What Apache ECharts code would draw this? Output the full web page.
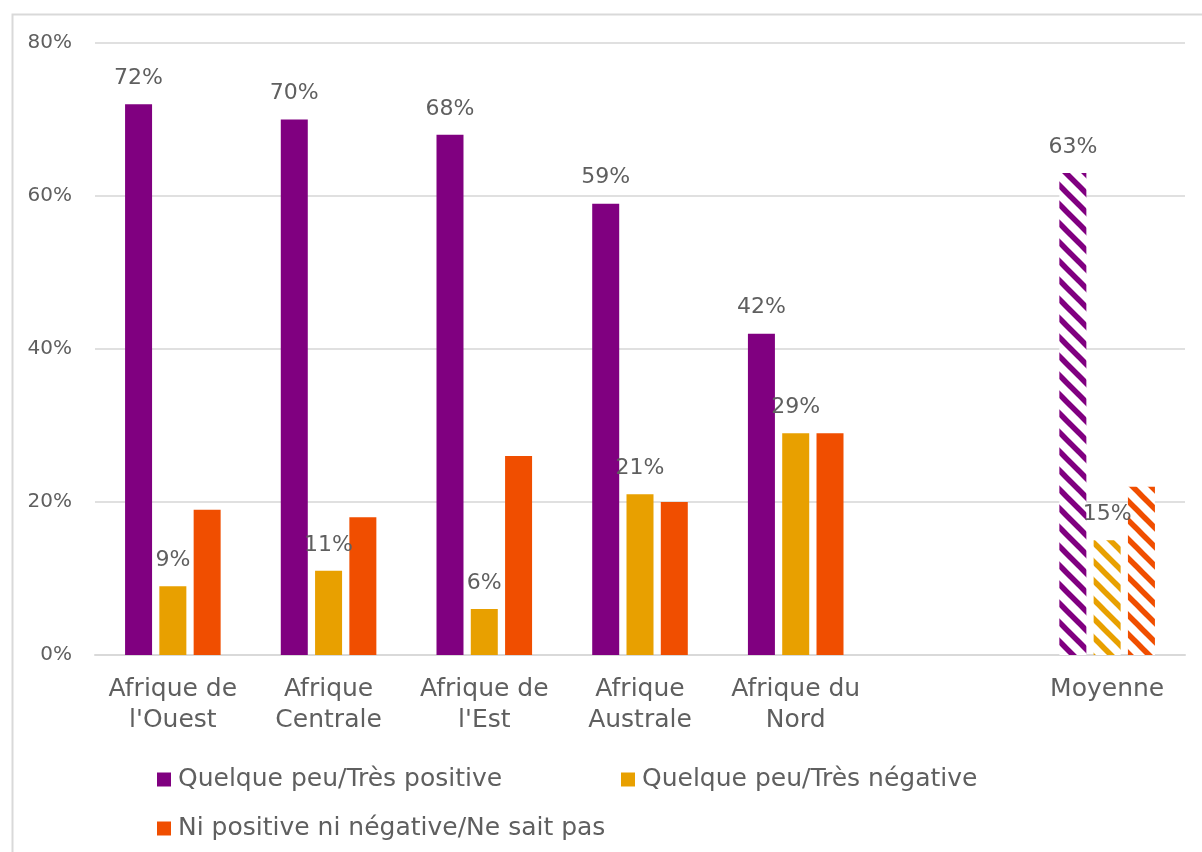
<!DOCTYPE html>
<html>
<head>
<meta charset="utf-8">
<script src="https://cdn.jsdelivr.net/npm/echarts@6/dist/echarts.min.js"></script>
<style>
  html, body { margin: 0; padding: 0; background: #fff; }
  #chart { width: 1202px; height: 852px; }
</style>
</head>
<body>
<div id="chart"></div>
<script>
// Regions (the empty slot leaves a gap before the average)
const categories = ["Afrique de\nl'Ouest", "Afrique\nCentrale", "Afrique de\nl'Est", "Afrique\nAustrale", "Afrique du\nNord", "", "Moyenne"];
const seriesNames = ["Quelque peu/Très positive", "Quelque peu/Très négative", "Ni positive ni négative/Ne sait pas"];
const positive = [72, 70, 68, 59, 42, null, 63];
const negative = [9, 11, 6, 21, 29, null, 15];
const neutral = [19, 18, 26, 20, 29, null, 22];
const yTicks = [0, 20, 40, 60, 80];

const colors = ["#800080", "#E8A000", "#F04E00"];
const averageLabel = "Moyenne";
const TEXT = "#5f5f5f";
const FONT = "DejaVu Sans";

// Diagonal white stripes used for the average bars
function stripes(color) {
  const s = 19;
  const c = document.createElement("canvas");
  c.width = s; c.height = s;
  const g = c.getContext("2d");
  g.fillStyle = "#fff";
  g.fillRect(0, 0, s, s);
  g.strokeStyle = color;
  g.lineWidth = 5.5;
  for (let k = -1; k <= 1; k++) {
    g.beginPath();
    g.moveTo(k * s - 2, -2);
    g.lineTo(k * s + s + 2, s + 2);
    g.stroke();
  }
  return { image: c, repeat: "repeat" };
}

function buildData(values, color) {
  return values.map((v, i) => {
    if (v === null) return "-";
    if (categories[i] === averageLabel) {
      return { value: v, itemStyle: { color: stripes(color) } };
    }
    return v;
  });
}

const chart = echarts.init(document.getElementById("chart"));

const valueLabel = {
  show: true,
  position: "top",
  distance: 15,
  formatter: "{c}%",
  color: TEXT,
  fontFamily: FONT,
  fontSize: 22
};

function legend(name, left, top) {
  return {
    data: [name],
    left: left,
    top: top,
    itemWidth: 14,
    itemHeight: 14,
    itemGap: 8,
    icon: "rect",
    textStyle: { color: TEXT, fontFamily: FONT, fontSize: 25, padding: [0, 0, 0, 2] }
  };
}

chart.setOption({
  animation: false,
  backgroundColor: "#fff",
  graphic: [{
    type: "rect",
    left: 10, top: 12,
    shape: { width: 1240, height: 900 },
    style: { fill: "none", stroke: "#d9d9d9", lineWidth: 2 },
    silent: true
  }],
  grid: { left: 95, right: 17, top: 43, bottom: 197 },
  legend: [
    legend(seriesNames[0], 152, 762),
    legend(seriesNames[1], 616, 762),
    legend(seriesNames[2], 152, 811)
  ],
  xAxis: {
    type: "category",
    data: categories,
    axisTick: { show: false },
    axisLine: { lineStyle: { color: "#d9d9d9", width: 2 } },
    axisLabel: {
      color: TEXT,
      fontFamily: FONT,
      fontSize: 25,
      lineHeight: 31,
      margin: 19,
      interval: 0
    }
  },
  yAxis: {
    type: "value",
    min: yTicks[0],
    max: yTicks[yTicks.length - 1],
    interval: 20,
    axisLine: { show: false },
    axisTick: { show: false },
    splitLine: { lineStyle: { color: "#e0e0e0", width: 2 } },
    axisLabel: {
      formatter: "{value}%",
      color: TEXT,
      fontFamily: FONT,
      fontSize: 20,
      margin: 23
    }
  },
  series: [
    { name: seriesNames[0], type: "bar", data: buildData(positive, colors[0]),
      itemStyle: { color: colors[0] }, barWidth: 27, barGap: "27%", label: valueLabel },
    { name: seriesNames[1], type: "bar", data: buildData(negative, colors[1]),
      itemStyle: { color: colors[1] }, barWidth: 27, barGap: "27%", label: valueLabel },
    { name: seriesNames[2], type: "bar", data: buildData(neutral, colors[2]),
      itemStyle: { color: colors[2] }, barWidth: 27, barGap: "27%" }
  ]
});
</script>
</body>
</html>
